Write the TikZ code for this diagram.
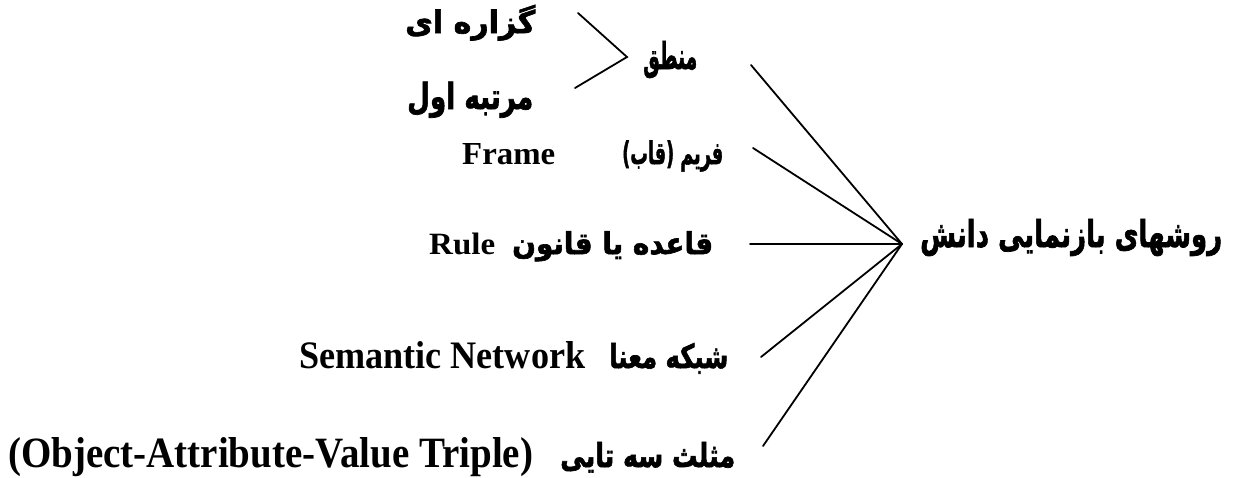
\documentclass[tikz,border=0pt]{standalone}
\usepackage{fontspec}
\usepackage{graphicx}
\setmainfont{Liberation Serif}
\newfontfamily\fa[Script=Arabic, BoldFeatures={FakeBold=2}]{DejaVu Sans}
\newfontfamily\faplain[BoldFeatures={FakeBold=2}]{DejaVu Sans}
\TeXXeTstate=1
\XeTeXuseglyphmetrics=1
\newcommand{\lat}[3]{\resizebox{#1pt}{#2pt}{\bfseries #3}}
\newcommand{\per}[3]{\resizebox{#1pt}{\height}{\fontsize{#2pt}{#2pt}\selectfont\fa\bfseries #3}}
\tikzset{
  lbl/.style={inner sep=0pt, anchor=base west},
  link/.style={line width=1.8pt, line cap=round}
}
\begin{document}
\begin{tikzpicture}[x=1pt,y=-1pt]
\useasboundingbox (0,0) rectangle (1234,477);
% root
\node[lbl] (root) at (920,247) {\per{302}{37}{\beginR روشهای بازنمایی دانش\endR}};
% logic branch
\node[lbl] (mantegh) at (643,69) {\per{54}{37}{منطق}};
\node[lbl] (gozare) at (405,33) {\per{130}{31}{\beginR گزاره ای\endR}};
\node[lbl] (martabe) at (407,109) {\per{126}{36}{\beginR مرتبه اول\endR}};
% other methods
\node[lbl] (frame) at (462,164) {\lat{93}{21}{Frame}\hspace{67pt}\per{101}{31}{\hbox{\faplain (}\hbox{قاب}\hbox{\faplain )} \hbox{فریم}}};
\node[lbl] (rule) at (429,254) {\lat{66}{21.5}{Rule}\hspace{17pt}\per{201}{30}{\beginR قاعده یا قانون\endR}};
\node[lbl] (sem) at (299,368) {\lat{286}{27}{Semantic Network}\hspace{24pt}\per{119}{33}{\beginR شبکه معنا\endR}};
\node[lbl] (oav) at (8,467) {\lat{525}{30}{(Object-Attribute-Value Triple)}\hspace{27pt}\per{175}{33}{\beginR مثلث سه تایی\endR}};
% connector points
\coordinate (hub) at (902,244);
\coordinate (eM) at (751,65);
\coordinate (eF) at (753,148);
\coordinate (eR) at (750,244);
\coordinate (eS) at (761,357);
\coordinate (eO) at (763,446);
\coordinate (cT) at (578,13);
\coordinate (cV) at (627,57);
\coordinate (cB) at (575,88);
\draw[link] (eM) -- (hub);
\draw[link] (eF) -- (hub);
\draw[link] (eR) -- (hub);
\draw[link] (eS) -- (hub);
\draw[link] (eO) -- (hub);
\draw[link] (cT) -- (cV) -- (cB);
\end{tikzpicture}
\end{document}
